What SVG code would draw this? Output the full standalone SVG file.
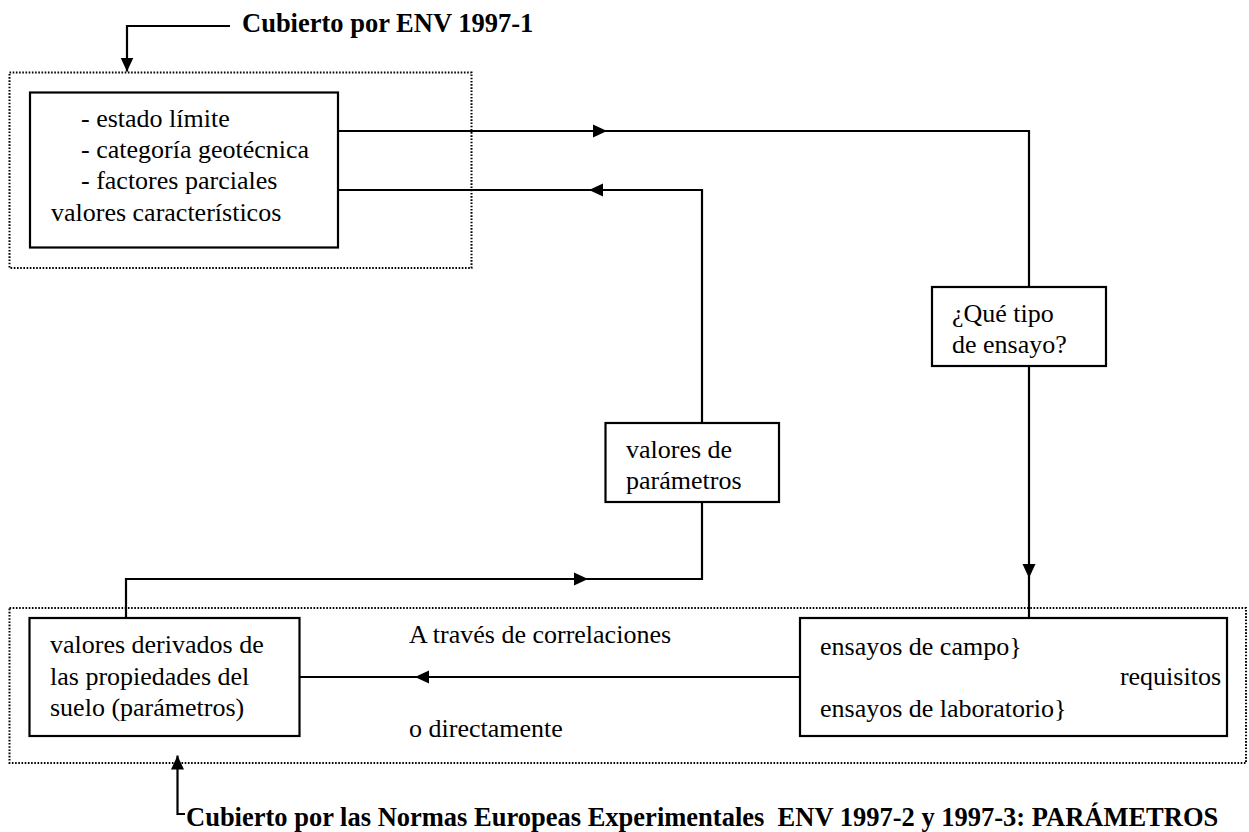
<svg xmlns="http://www.w3.org/2000/svg" width="1249" height="832" viewBox="0 0 1249 832">
<style>
.bg{fill:#fff}
.box{fill:#fff;stroke:#000;stroke-width:2.2}
.dot{fill:none;stroke:#000;stroke-width:2;stroke-dasharray:1.6 1.6}
.ln{fill:none;stroke:#000;stroke-width:2.2}
.t{font-family:"Liberation Serif","Times New Roman",serif;font-size:26px;fill:#000}
.b{font-family:"Liberation Serif","Times New Roman",serif;font-size:26.5px;font-weight:bold;fill:#000}
</style>
<defs>
<marker id="ah" viewBox="0 0 14 14" refX="14" refY="7" markerWidth="14" markerHeight="14" markerUnits="userSpaceOnUse" orient="auto">
<path d="M0,0.5 L14,7 L0,13.5 Z" fill="#000"/>
</marker>
</defs>
<rect class="bg" x="0" y="0" width="1249" height="832"/>

<g id="groups">
<rect id="top-group" class="dot" x="9.5" y="72.5" width="462" height="195.5"/>
<rect id="bottom-group" class="dot" x="9.5" y="608" width="1236.5" height="155"/>
</g>

<g id="connectors">
<path class="ln" d="M230,26 H127 V71.5" marker-end="url(#ah)"/>
<path class="ln" d="M185,814 H177.5 V755.5" marker-end="url(#ah)"/>
<path class="ln" d="M318,131 H607" marker-end="url(#ah)"/>
<path class="ln" d="M606,131 H1029 V287"/>
<path class="ln" d="M702,423 V190 H589" marker-end="url(#ah)"/>
<path class="ln" d="M590,190 H318"/>
<path class="ln" d="M1029,366 V578" marker-end="url(#ah)"/>
<path class="ln" d="M1029,577 V618"/>
<path class="ln" d="M126,618 V579 H588" marker-end="url(#ah)"/>
<path class="ln" d="M587,579 H702 V502"/>
<path class="ln" d="M800,677 H415" marker-end="url(#ah)"/>
<path class="ln" d="M416,677 H299"/>
</g>

<g id="label-top">
<text class="b" x="242" y="32">Cubierto por ENV 1997-1</text>
</g>

<g id="node-limit">
<rect class="box" x="30" y="92.5" width="308" height="155"/>
<text class="t" x="81" y="127">- estado límite</text>
<text class="t" x="81" y="158">- categoría geotécnica</text>
<text class="t" x="81" y="189">- factores parciales</text>
<text class="t" x="51" y="221">valores característicos</text>
</g>

<g id="node-tipo">
<rect class="box" x="932" y="287" width="174" height="79"/>
<text class="t" x="952" y="322">¿Qué tipo</text>
<text class="t" x="952" y="353">de ensayo?</text>
</g>

<g id="node-valores">
<rect class="box" x="605.5" y="423" width="173.5" height="79"/>
<text class="t" x="626" y="458">valores de</text>
<text class="t" x="626" y="489">parámetros</text>
</g>

<g id="node-derivados">
<rect class="box" x="29.5" y="618" width="270" height="118"/>
<text class="t" x="50" y="653">valores derivados de</text>
<text class="t" x="50" y="685">las propiedades del</text>
<text class="t" x="50" y="716">suelo (parámetros)</text>
</g>

<g id="edge-labels">
<text class="t" x="409" y="643">A través de correlaciones</text>
<text class="t" x="409" y="737">o directamente</text>
</g>

<g id="node-ensayos">
<rect class="box" x="800" y="618" width="427" height="118"/>
<text class="t" x="820" y="655">ensayos de campo}</text>
<text class="t" x="1221" y="685" text-anchor="end">requisitos</text>
<text class="t" x="820" y="717">ensayos de laboratorio}</text>
</g>

<g id="label-bottom">
<text class="b" x="186" y="826" xml:space="preserve">Cubierto por las Normas Europeas Experimentales  ENV 1997-2 y 1997-3: PARÁMETROS</text>
</g>
</svg>
